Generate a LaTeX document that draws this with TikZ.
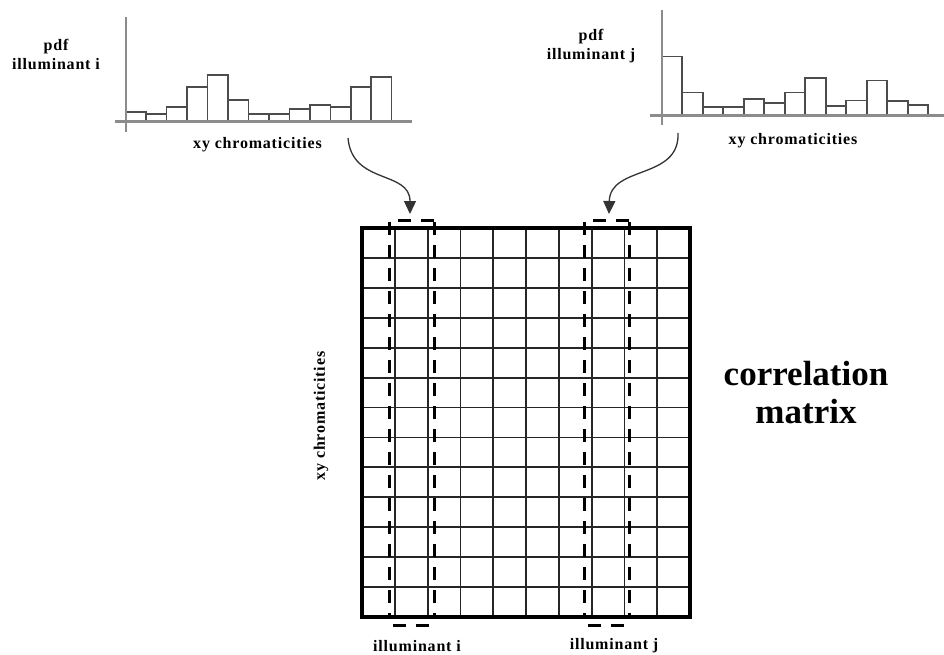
\documentclass[tikz,border=0pt]{standalone}
\usepackage{fontspec}
\setmainfont{Liberation Serif}
\newfontfamily\lblfont[LetterSpace=5]{Liberation Serif}
\usepackage{tikz}
\usetikzlibrary{arrows.meta, positioning}

\begin{document}
\begin{tikzpicture}[x=1pt, y=-1pt,
			axs/.style={draw=black!45, line width=2.4pt},
			bar/.style={draw=black!70, line width=1.6pt, fill=white},
			cell/.style={draw=black!85, line width=1.8pt},
			frm/.style={draw=black, line width=4pt},
			dsh/.style={draw=black, line width=3pt, dash pattern=on 13pt off 10pt},
			arr/.style={-{Triangle[length=13pt, width=12pt]}, line width=1.3pt, draw=black!80},
			lbl/.style={font=\lblfont\bfseries\fontsize{16}{19}\selectfont, align=center, inner sep=0pt},
			big/.style={font=\bfseries\fontsize{35}{38}\selectfont, inner sep=0pt}
			]
			\useasboundingbox (0,0) rectangle (944,655);
			
			% histogram of illuminant i
			\foreach \h [count=\k from 0] in {9.4,7.4,14.4,34.4,46.7,21.7,7.4,7.4,12.4,16.4,14.4,34.4,44.4}
				\draw[bar] (125.7+\k*20.46,121.7) rectangle ++(20.46,-\h);
			\draw[axs] (125.7,17) -- (125.7,132);
			\draw[axs] (115,121.7) -- (412,121.7);
			\node[lbl] (pdfi) at (56,54) {pdf\\illuminant i};
			\node[lbl] (xyi) at (257.5,145) {xy chromaticities};
			
			% histogram of illuminant j
			\foreach \h [count=\k from 0] in {59,23,8.4,8.4,16.7,12.4,23,37.4,9.7,15,35,14.7,10.4}
				\draw[bar] (661.7+\k*20.5,115.7) rectangle ++(20.5,-\h);
			\draw[axs] (661.7,10) -- (661.7,125);
			\draw[axs] (650,115.7) -- (944,115.7);
			\node[lbl] (pdfj) at (591,46) {pdf\\illuminant j};
			\node[lbl] (xyj) at (793,141) {xy chromaticities};
			
			% correlation matrix
			\foreach \i in {1,...,9}
				\draw[cell] (362+\i*32.8,228) -- (362+\i*32.8,617);
			\foreach \j in {1,...,12}
				\draw[cell] (362,228+\j*29.92) -- (690,228+\j*29.92);
			\draw[frm] (362,228) rectangle (690,617);
			
			% columns picked out
			\foreach \a/\b in {389/434, 584/629} {
				\draw[dsh] (\a,222) -- (\a,618);
				\draw[dsh] (\b,222) -- (\b,618);
				\draw[dsh, dash phase=14pt] (\a,220) -- (\b,220);
				\draw[dsh, dash phase=19pt] (\a,625) -- (\b,625);
			}
			
			\node[lbl, rotate=90] (xym) at (321,416) {xy chromaticities};
			\node[lbl] (illi) at (417,646) {illuminant i};
			\node[lbl] (illj) at (614,646) {illuminant j};
			\node[big, anchor=base] (corr) at (806,385) {correlation};
			\node[big, anchor=base] (mtx) at ([yshift=-38pt]corr.base) {matrix};
			
			\coordinate (hi) at (348,138);
			\coordinate (ci) at (410,214);
			\coordinate (hj) at (678,133);
			\coordinate (cj) at (609,214);
			\draw[arr] (hi) .. controls (352,185) and (410,170) .. (ci);
			\draw[arr] (hj) .. controls (680,180) and (610,165) .. (cj);
\end{tikzpicture}
\end{document}
